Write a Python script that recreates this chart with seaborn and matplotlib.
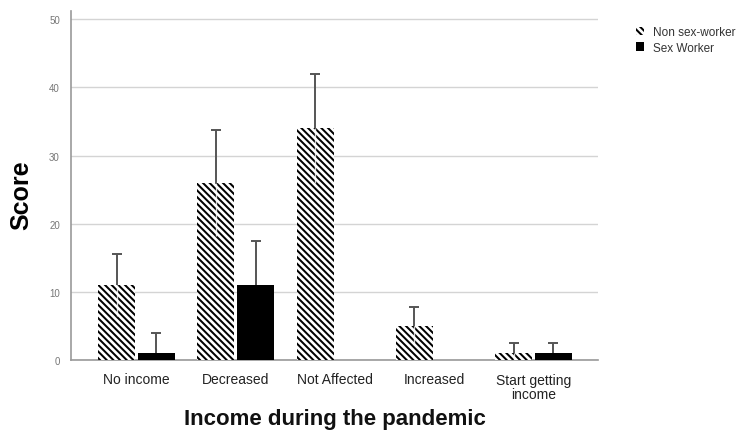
import numpy as np
import pandas as pd
import matplotlib
matplotlib.use('Agg')
import matplotlib.pyplot as plt
from matplotlib.patches import Patch
import seaborn as sns

# ---------------------------------------------------------------
# DATA
# ---------------------------------------------------------------
categories = ['No income', 'Decreased', 'Not Affected', 'Increased', 'Start getting\nincome']
groups = ['Non sex-worker', 'Sex Worker']
non_sex_scores = [11, 26, 34, 5, 1]
sex_scores = [1, 11, 0, 0, 1]
non_sex_err = [4.6, 7.8, 8.0, 2.8, 1.5]
sex_err = [3.0, 6.4, 0, 0, 1.5]

df = pd.DataFrame({
    'income': categories * 2,
    'score': non_sex_scores + sex_scores,
    'group': [groups[0]] * len(categories) + [groups[1]] * len(categories),
})

# ---------------------------------------------------------------
# STYLE
# ---------------------------------------------------------------
sns.set_style('white')
plt.rcParams['font.family'] = ['Liberation Sans', 'DejaVu Sans']
plt.rcParams['hatch.linewidth'] = 1.45

fig, ax = plt.subplots(figsize=(7.46, 4.35), dpi=100)
fig.subplots_adjust(left=71 / 746, right=598 / 746, bottom=1 - 361 / 435, top=1 - 12 / 435)

sns.barplot(data=df, x='income', y='score', hue='group', palette=['white', 'black'],
            width=0.8, gap=0.07, errorbar=None, legend=False, ax=ax, zorder=3)

# hatch the non sex-worker bars
for bar in ax.containers[0]:
    bar.set_hatch('\\' * 5)
    bar.set_edgecolor('black')
    bar.set_linewidth(0)
for bar in ax.containers[1]:
    bar.set_linewidth(0)

# error bars (upper part grey, lower part white inside the hatched bar)
cap = 0.05
for cont, errs, inner in [(ax.containers[0], non_sex_err, True), (ax.containers[1], sex_err, False)]:
    for bar, e in zip(cont, errs):
        if e <= 0:
            continue
        xc = bar.get_x() + bar.get_width() / 2
        h = bar.get_height()
        ax.vlines(xc, h, h + e, color='#555555', lw=1.4, zorder=4)
        ax.hlines(h + e, xc - cap, xc + cap, color='#555555', lw=1.4, zorder=4)
        if inner:
            ax.vlines(xc, max(0, h - e), h, color='white', lw=1.0, alpha=0.8, zorder=4)

ax.set_ylim(0, 51.2)
ax.set_xlim(-0.66, 4.65)
ax.set_yticks(np.arange(0, 51, 10))
ax.yaxis.grid(True, color='#d4d4d4', lw=1.0, zorder=0)
ax.set_axisbelow(True)

for side in ['top', 'right']:
    ax.spines[side].set_visible(False)
for side in ['left', 'bottom']:
    ax.spines[side].set_color('#999999')
    ax.spines[side].set_linewidth(1.2)

ax.tick_params(axis='y', labelsize=7, colors='#777777', length=0, pad=8)
ax.tick_params(axis='x', labelsize=10, colors='#222222', length=0, pad=9)
for lbl in ax.get_xticklabels():
    lbl.set_linespacing(1.05)

ax.set_ylabel('Score', fontsize=18, fontweight='bold', color='black', va='center')
ax.yaxis.set_label_coords(-0.094, 0.475)
ax.set_xlabel('Income during the pandemic', fontsize=16, fontweight='bold', color='#111111', va='center')
ax.xaxis.set_label_coords(0.5, -0.169)

handles = [Patch(facecolor='white', edgecolor='black', hatch='\\' * 5, linewidth=0, label=groups[0]),
           Patch(facecolor='black', edgecolor='black', linewidth=0, label=groups[1])]
fig.legend(handles=handles, loc='upper left', bbox_to_anchor=(0.838, 0.962), frameon=False,
           fontsize=8.5, handlelength=0.7, handleheight=0.7, handletextpad=0.8,
           labelspacing=0.3, labelcolor='#333333')

fig.savefig('out.png', dpi=100)
